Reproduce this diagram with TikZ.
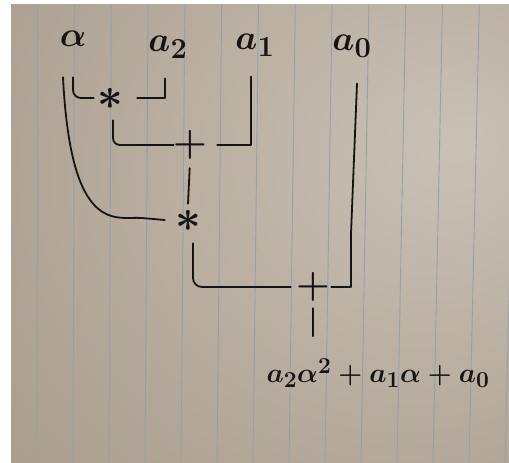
\documentclass[tikz,border=0pt]{standalone}
\usepackage{graphicx}
\usetikzlibrary{calc}
\definecolor{ink}{RGB}{22,20,19}
\definecolor{paperL}{RGB}{202,193,182}
\definecolor{paperM}{RGB}{182,171,156}
\definecolor{paperD}{RGB}{152,140,124}
\definecolor{rulecol}{RGB}{148,160,170}
\pgfdeclareradialshading{paper}{\pgfpoint{20bp}{10bp}}{color(0bp)=(paperL); color(28bp)=(paperM); color(72bp)=(paperD); color(100bp)=(paperD)}
\newcommand{\bigtxt}[2]{\scalebox{#1}{\Huge\boldmath #2}}
% operator glyph centred on its node, taking no room
\newcommand{\opglyph}[3]{\makebox[0pt]{\smash{\raisebox{#2}{\bigtxt{#1}{#3}}}}}
\begin{document}
\begin{tikzpicture}[x=1pt,y=1pt,
  wire/.style={draw=ink,line width=1.8pt,line cap=round,line join=round},
  lbl/.style={inner sep=0pt,anchor=base,text=ink},
  opnode/.style={circle,minimum size=32pt,inner sep=0pt,text=ink}]
\useasboundingbox (0,0) rectangle (509,463);
\fill[white] (0,0) rectangle (509,463);
\shade[shading=paper] (11,0) rectangle (509,458);
\begin{scope}
\clip (11,0) rectangle (509,458);
\foreach \i in {0,...,13} {
  \draw[rulecol,line width=0.9pt] ({37+36.0*\i},0) -- ({37.7+36.8*\i},458);
}
\end{scope}
% labels
\node[lbl] (alpha) at (73,416) {\bigtxt{1.4}{$\alpha$}};
\node[lbl] (a2) at (168,411) {\bigtxt{1.4}{$a_2$}};
\node[lbl] (a1) at (255,413) {\bigtxt{1.4}{$a_1$}};
\node[lbl] (a0) at (352,412) {\bigtxt{1.4}{$a_0$}};
% operators
\node[opnode] (m1) at (110,365) {\opglyph{1.8}{-11.2pt}{$\ast$}};
\node[opnode] (p1) at (190,318) {\opglyph{1.55}{-9.6pt}{$+$}};
\node[opnode] (m2) at (188,243) {\opglyph{1.8}{-11.2pt}{$\ast$}};
\node[opnode] (p2) at (313,176) {\opglyph{1.55}{-9.6pt}{$+$}};
% result
\node[lbl] (out) at (378,80) {\bigtxt{1.1}{$a_2\alpha^2+a_1\alpha+a_0$}};
% connectors
\draw[wire,rounded corners=8pt] ([shift={(0,-30)}]alpha.south) |- (m1.west);
\draw[wire] ([shift={(-10,-30)}]alpha.south) .. controls ([shift={(-2,-190)}]alpha.south) and ([shift={(-55,4)}]m2.west) .. ([shift={(-30,2)}]m2.west) -- ([shift={(-7,0)}]m2.west);
\draw[wire,shorten >=11pt] ([shift={(-3,-20)}]a2.south) |- (m1.east);
\draw[wire,shorten >=11pt] ([shift={(-4,-20)}]a1.south) |- (p1.east);
\draw[wire,rounded corners=7pt] ([shift={(3,-6)}]m1.south) |- (p1.west);
\draw[wire,shorten <=7pt] (p1.south) -- (m2.north);
\draw[wire,rounded corners=9pt,shorten >=6pt] ([shift={(5,-7)}]m2.south) |- (p2.west);
\draw[wire,shorten >=2pt] ([shift={(5,-26)}]a0.south) -- ++(-6,-150) |- (p2.east);
\draw[wire,shorten <=5pt,shorten >=22pt] (p2.south) -- (p2.south |- out.north);
\end{tikzpicture}
\end{document}
